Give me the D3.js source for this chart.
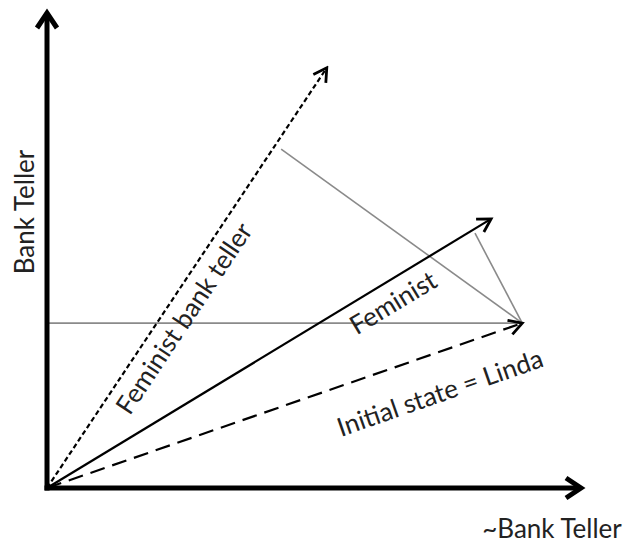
<!DOCTYPE html>
<html>
<head>
<meta charset="utf-8">
<script src="https://cdnjs.cloudflare.com/ajax/libs/d3/7.8.5/d3.min.js"></script>
<style>
  body { margin: 0; background: #fff; }
  text { font-family: Lato, "Open Sans", sans-serif; fill: #222; }
</style>
</head>
<body>
<script>
// axis lengths (data units)
var axisEnd = 100;

// state vectors
var vectorNames = ["Feminist bank teller", "Feminist", "Initial state = Linda"];
var vectorX = [52.1, 82.7, 88.5];
var vectorY = [87.9, 56.3, 34.5];

// projection feet of Linda onto the two other vectors
var projX = [43.6, 79.7];
var projY = [70.9, 53.3];

var axisLabels = ["Bank Teller", "~Bank Teller"];

var width = 639,
    height = 546;

var x = d3.scaleLinear().domain([0, axisEnd]).range([47, 584]);
var y = d3.scaleLinear().domain([0, axisEnd]).range([488, 10]);

var svg = d3.select("body").append("svg")
    .attr("width", width)
    .attr("height", height);

var defs = svg.append("defs");

function marker(id, len, half, sw) {
  defs.append("marker")
      .attr("id", id)
      .attr("viewBox", (-len - sw) + " " + (-half - sw) + " " + (len + 2 * sw) + " " + (2 * half + 2 * sw))
      .attr("refX", 0)
      .attr("refY", 0)
      .attr("markerUnits", "userSpaceOnUse")
      .attr("markerWidth", len + 2 * sw)
      .attr("markerHeight", 2 * half + 2 * sw)
      .attr("orient", "auto")
    .append("path")
      .attr("d", "M" + (-len) + "," + (-half) + "L0,0L" + (-len) + "," + half)
      .attr("fill", "none")
      .attr("stroke", "#000")
      .attr("stroke-width", sw)
      .attr("stroke-linejoin", "miter");
}
marker("axisHead", 15, 10, 5);
marker("vecHead", 13, 7.5, 2.8);

var linda = [vectorX[2], vectorY[2]];

// gray construction lines
var grey = svg.append("g")
    .attr("stroke", "#8a8a8a")
    .attr("stroke-width", 1.6);

grey.append("line")
    .attr("x1", x(0)).attr("y1", y(linda[1]))
    .attr("x2", x(linda[0])).attr("y2", y(linda[1]));

grey.selectAll("line.proj")
    .data(projX)
  .enter().append("line")
    .attr("class", "proj")
    .attr("x1", function(d) { return x(d); })
    .attr("y1", function(d, i) { return y(projY[i]); })
    .attr("x2", x(linda[0]))
    .attr("y2", y(linda[1]));

// vectors
var dashes = ["5,3", null, "15,8"];

svg.selectAll("line.vec")
    .data(vectorNames)
  .enter().append("line")
    .attr("class", "vec")
    .attr("x1", x(0)).attr("y1", y(0))
    .attr("x2", function(d, i) { return x(vectorX[i]); })
    .attr("y2", function(d, i) { return y(vectorY[i]); })
    .attr("stroke", "#000")
    .attr("stroke-width", 2.2)
    .attr("stroke-dasharray", function(d, i) { return dashes[i]; })
    .attr("marker-end", "url(#vecHead)");

// axes
svg.append("line")
    .attr("x1", x(0)).attr("y1", y(0) + 2.5)
    .attr("x2", x(0)).attr("y2", y(axisEnd) + 3)
    .attr("stroke", "#000").attr("stroke-width", 5)
    .attr("marker-end", "url(#axisHead)");

svg.append("line")
    .attr("x1", x(0) - 2.5).attr("y1", y(0))
    .attr("x2", x(axisEnd) - 3).attr("y2", y(0))
    .attr("stroke", "#000").attr("stroke-width", 5)
    .attr("marker-end", "url(#axisHead)");

// vector labels
var labelT = [0.43, 0.755, 0.80];
var labelDy = [20, 21, 39];

svg.selectAll("g.lab")
    .data(vectorNames)
  .enter().append("g")
    .attr("class", "lab")
    .attr("transform", function(d, i) {
      var px = x(0) + (x(vectorX[i]) - x(0)) * labelT[i],
          py = y(0) + (y(vectorY[i]) - y(0)) * labelT[i],
          a = Math.atan2(y(vectorY[i]) - y(0), x(vectorX[i]) - x(0)) * 180 / Math.PI;
      return "translate(" + px + "," + py + ") rotate(" + a + ")";
    })
  .append("text")
    .attr("y", function(d, i) { return labelDy[i]; })
    .attr("dy", "0.35em")
    .attr("text-anchor", "middle")
    .style("font-size", "26px")
    .text(function(d) { return d; });

// axis labels
svg.append("text")
    .attr("transform", "translate(34,212) rotate(-90)")
    .attr("text-anchor", "middle")
    .style("font-size", "26px")
    .text(axisLabels[0]);

svg.append("text")
    .attr("x", 552)
    .attr("y", 538)
    .attr("text-anchor", "middle")
    .style("font-size", "26px")
    .text(axisLabels[1]);
</script>
</body>
</html>
